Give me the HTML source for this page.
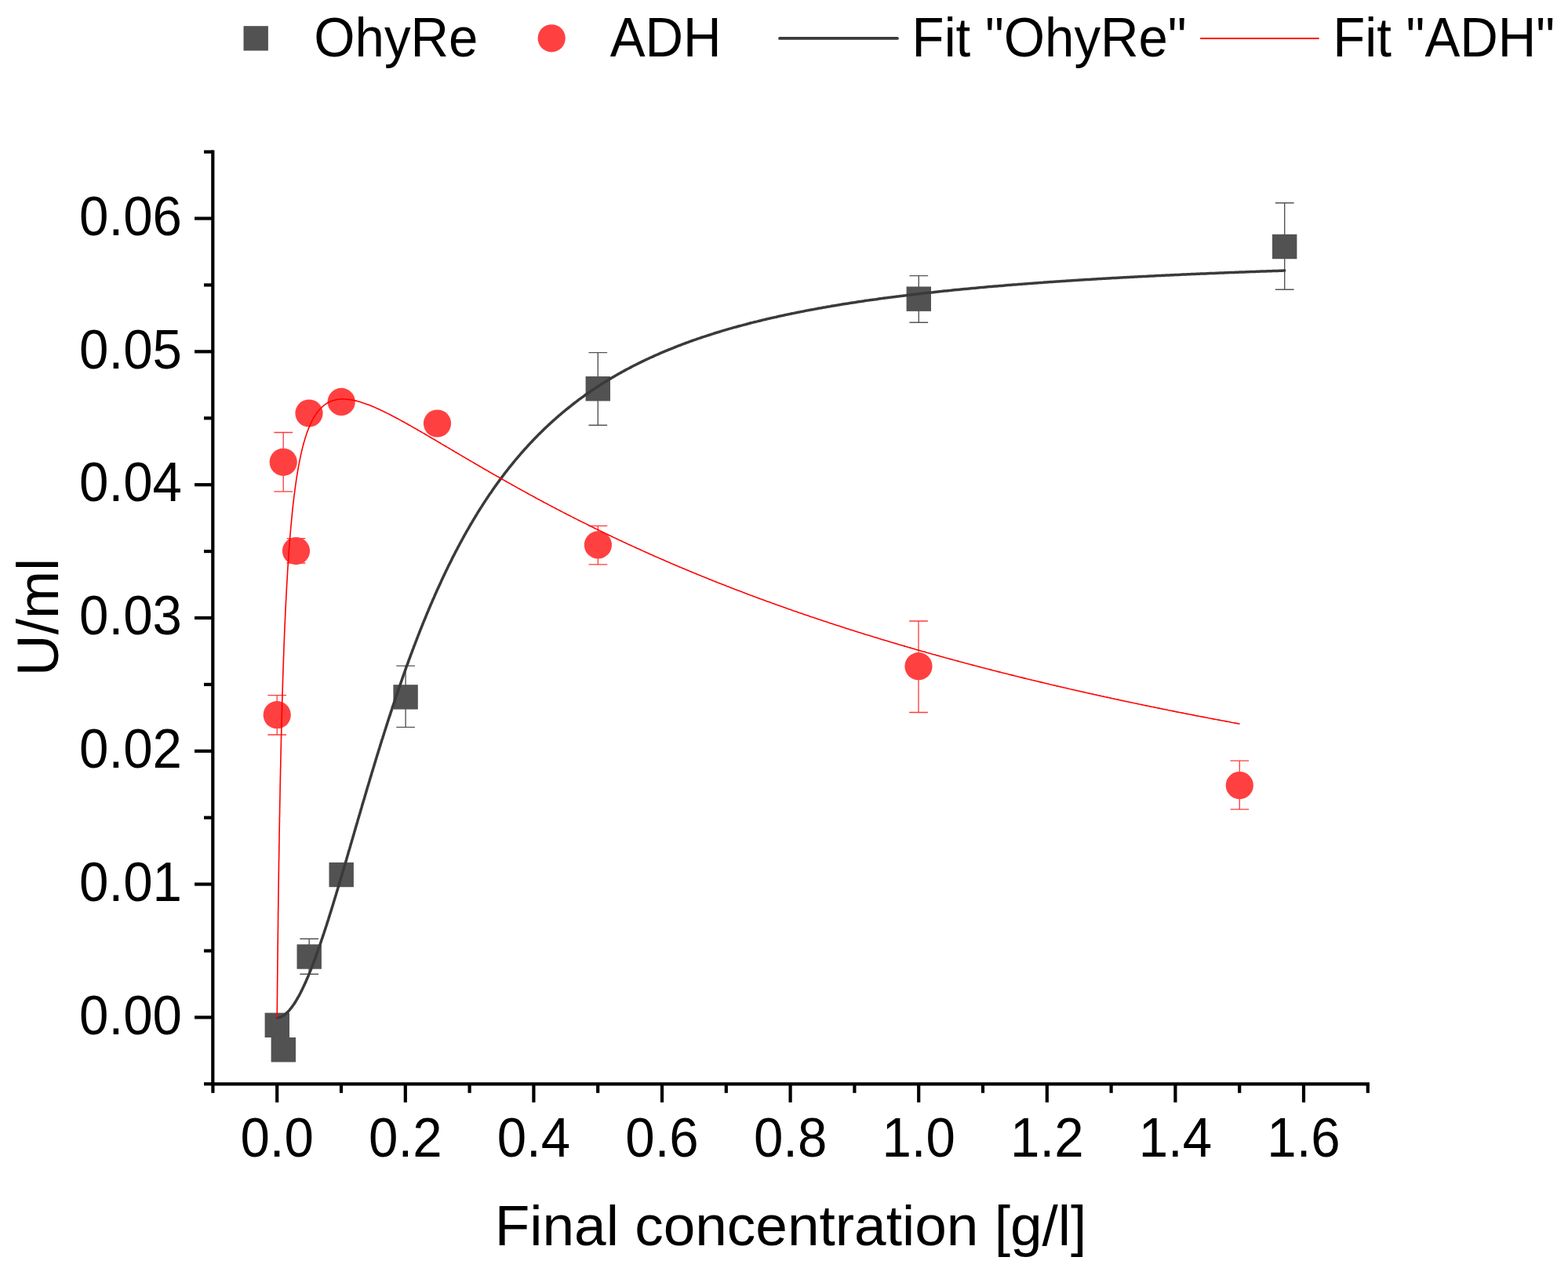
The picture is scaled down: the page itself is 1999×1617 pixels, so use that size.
<!DOCTYPE html>
<html><head><meta charset="utf-8"><title>Enzyme activity vs final concentration</title>
<style>html,body{margin:0;padding:0;background:#fff;overflow:hidden;} svg{display:block;}</style>
</head><body>
<svg width="1999" height="1617" viewBox="0 0 1999 1617">
<rect width="1999" height="1617" fill="#fff"/>
<g stroke="#000" stroke-width="4.2" fill="none" stroke-linecap="butt">
<path d="M271.3,191.5 V1384.3999999999999"/>
<path d="M269.2,1382.3 H1745.9"/>
<path d="M260.0,1382.30 H271.3"/>
<path d="M248.0,1297.40 H271.3"/>
<path d="M260.0,1212.50 H271.3"/>
<path d="M248.0,1127.59 H271.3"/>
<path d="M260.0,1042.69 H271.3"/>
<path d="M248.0,957.79 H271.3"/>
<path d="M260.0,872.88 H271.3"/>
<path d="M248.0,787.98 H271.3"/>
<path d="M260.0,703.08 H271.3"/>
<path d="M248.0,618.17 H271.3"/>
<path d="M260.0,533.27 H271.3"/>
<path d="M248.0,448.37 H271.3"/>
<path d="M260.0,363.46 H271.3"/>
<path d="M248.0,278.56 H271.3"/>
<path d="M260.0,193.65 H271.3"/>
<path d="M271.40,1382.3 V1393.8"/>
<path d="M353.20,1382.3 V1405.8"/>
<path d="M435.00,1382.3 V1393.8"/>
<path d="M516.80,1382.3 V1405.8"/>
<path d="M598.60,1382.3 V1393.8"/>
<path d="M680.40,1382.3 V1405.8"/>
<path d="M762.20,1382.3 V1393.8"/>
<path d="M844.00,1382.3 V1405.8"/>
<path d="M925.80,1382.3 V1393.8"/>
<path d="M1007.60,1382.3 V1405.8"/>
<path d="M1089.40,1382.3 V1393.8"/>
<path d="M1171.20,1382.3 V1405.8"/>
<path d="M1253.00,1382.3 V1393.8"/>
<path d="M1334.80,1382.3 V1405.8"/>
<path d="M1416.60,1382.3 V1393.8"/>
<path d="M1498.40,1382.3 V1405.8"/>
<path d="M1580.20,1382.3 V1393.8"/>
<path d="M1662.00,1382.3 V1405.8"/>
<path d="M1743.80,1382.3 V1393.8"/>
</g>
<g font-family="Liberation Sans, Arial, sans-serif" font-size="67.2" fill="#000">
<text text-anchor="end" transform="translate(231.9,1318.70) scale(1,1.05)">0.00</text>
<text text-anchor="end" transform="translate(231.9,1148.89) scale(1,1.05)">0.01</text>
<text text-anchor="end" transform="translate(231.9,979.09) scale(1,1.05)">0.02</text>
<text text-anchor="end" transform="translate(231.9,809.28) scale(1,1.05)">0.03</text>
<text text-anchor="end" transform="translate(231.9,639.47) scale(1,1.05)">0.04</text>
<text text-anchor="end" transform="translate(231.9,469.67) scale(1,1.05)">0.05</text>
<text text-anchor="end" transform="translate(231.9,299.86) scale(1,1.05)">0.06</text>
<text text-anchor="middle" transform="translate(353.20,1475.2) scale(1,1.05)">0.0</text>
<text text-anchor="middle" transform="translate(516.80,1475.2) scale(1,1.05)">0.2</text>
<text text-anchor="middle" transform="translate(680.40,1475.2) scale(1,1.05)">0.4</text>
<text text-anchor="middle" transform="translate(844.00,1475.2) scale(1,1.05)">0.6</text>
<text text-anchor="middle" transform="translate(1007.60,1475.2) scale(1,1.05)">0.8</text>
<text text-anchor="middle" transform="translate(1171.20,1475.2) scale(1,1.05)">1.0</text>
<text text-anchor="middle" transform="translate(1334.80,1475.2) scale(1,1.05)">1.2</text>
<text text-anchor="middle" transform="translate(1498.40,1475.2) scale(1,1.05)">1.4</text>
<text text-anchor="middle" transform="translate(1662.00,1475.2) scale(1,1.05)">1.6</text>
</g>
<text font-family="Liberation Sans, Arial, sans-serif" font-size="73.2" text-anchor="middle" transform="translate(74.0,787.0) rotate(-90) scale(1,1.02)">U/ml</text>
<text font-family="Liberation Sans, Arial, sans-serif" font-size="73" text-anchor="middle" transform="translate(1008.0,1588.3) scale(1,1.0)">Final concentration [g/l]</text>
<g stroke="#555" stroke-width="1.4" fill="none">
<path d="M394.20,1197.30 V1242.30 M382.35,1197.30 h23.7 M382.35,1242.30 h23.7"/>
<path d="M517.10,849.10 V927.40 M505.25,849.10 h23.7 M505.25,927.40 h23.7"/>
<path d="M762.30,449.60 V542.30 M750.45,449.60 h23.7 M750.45,542.30 h23.7"/>
<path d="M1171.30,351.60 V411.20 M1159.45,351.60 h23.7 M1159.45,411.20 h23.7"/>
<path d="M1637.70,258.80 V369.30 M1625.85,258.80 h23.7 M1625.85,369.30 h23.7"/>
</g>
<g stroke="#ff3a3a" stroke-width="1.3" fill="none">
<path d="M353.20,886.60 V937.00 M341.35,886.60 h23.7 M341.35,937.00 h23.7"/>
<path d="M361.20,551.50 V626.80 M349.35,551.50 h23.7 M349.35,626.80 h23.7"/>
<path d="M377.50,686.60 V718.00 M365.65,686.60 h23.7 M365.65,718.00 h23.7"/>
<path d="M762.40,670.70 V719.80 M750.55,670.70 h23.7 M750.55,719.80 h23.7"/>
<path d="M1171.00,792.00 V908.50 M1159.15,792.00 h23.7 M1159.15,908.50 h23.7"/>
<path d="M1580.30,970.10 V1032.20 M1568.45,970.10 h23.7 M1568.45,1032.20 h23.7"/>
</g>
<g fill="#525252">
<rect x="337.60" y="1291.60" width="31.4" height="31.4"/>
<rect x="345.60" y="1323.00" width="31.4" height="31.4"/>
<rect x="378.50" y="1204.30" width="31.4" height="31.4"/>
<rect x="419.50" y="1099.80" width="31.4" height="31.4"/>
<rect x="501.40" y="873.20" width="31.4" height="31.4"/>
<rect x="746.60" y="480.00" width="31.4" height="31.4"/>
<rect x="1155.60" y="365.50" width="31.4" height="31.4"/>
<rect x="1622.00" y="298.80" width="31.4" height="31.4"/>
</g>
<g fill="#ff4040">
<circle cx="353.20" cy="911.70" r="17.6"/>
<circle cx="361.20" cy="589.30" r="17.6"/>
<circle cx="377.50" cy="702.60" r="17.6"/>
<circle cx="394.00" cy="527.00" r="17.6"/>
<circle cx="435.20" cy="512.40" r="17.6"/>
<circle cx="557.50" cy="540.00" r="17.6"/>
<circle cx="762.40" cy="694.90" r="17.6"/>
<circle cx="1171.00" cy="849.70" r="17.6"/>
<circle cx="1580.30" cy="1001.60" r="17.6"/>
</g>
<path d="M353.2,1297.8 354.7,1297.7 356.2,1297.4 357.7,1296.9 359.1,1296.3 360.4,1295.6 361.7,1294.8 362.9,1293.9 364.2,1292.9 365.3,1291.9 366.4,1290.9 367.5,1289.8 368.6,1288.6 369.6,1287.4 370.6,1286.2 371.6,1284.9 372.5,1283.6 373.5,1282.3 374.4,1281.0 375.3,1279.7 376.2,1278.3 377.0,1277.0 377.8,1275.6 378.6,1274.2 379.5,1272.8 380.2,1271.4 381.0,1270.1 381.7,1268.7 382.5,1267.2 383.3,1265.7 384.1,1264.1 384.9,1262.5 385.6,1261.2 386.2,1259.7 386.9,1258.3 387.6,1256.8 388.3,1255.3 389.0,1253.7 389.8,1252.1 390.5,1250.4 391.2,1248.8 392.0,1247.0 392.6,1245.6 393.2,1244.2 393.8,1242.7 394.4,1241.2 395.0,1239.7 395.6,1238.2 396.2,1236.6 396.9,1235.0 397.5,1233.4 398.1,1231.8 398.8,1230.1 399.4,1228.4 400.1,1226.7 400.7,1224.9 401.4,1223.1 402.1,1221.3 402.7,1219.5 403.4,1217.6 403.9,1216.2 404.4,1214.8 405.0,1213.3 405.5,1211.9 406.0,1210.4 406.5,1208.9 407.0,1207.4 407.6,1205.9 408.1,1204.3 408.6,1202.8 409.2,1201.2 409.7,1199.6 410.2,1198.0 410.8,1196.4 411.3,1194.8 411.9,1193.2 412.4,1191.5 413.0,1189.8 413.5,1188.1 414.1,1186.4 414.7,1184.7 415.2,1183.0 415.8,1181.2 416.4,1179.5 416.9,1177.7 417.5,1175.9 418.1,1174.1 418.7,1172.2 419.2,1170.4 419.8,1168.6 420.4,1166.7 421.0,1164.8 421.6,1162.9 422.2,1161.0 422.8,1159.1 423.4,1157.1 424.0,1155.2 424.6,1153.2 425.2,1151.2 425.8,1149.2 426.4,1147.2 427.0,1145.2 427.6,1143.2 428.3,1141.1 428.9,1139.0 429.5,1137.0 430.1,1134.9 430.8,1132.8 431.4,1130.7 432.0,1128.5 432.7,1126.4 433.3,1124.2 433.8,1122.8 434.2,1121.4 434.6,1119.9 435.0,1118.4 435.5,1117.0 435.9,1115.5 436.3,1114.0 436.8,1112.5 437.2,1111.1 437.7,1109.6 438.1,1108.1 438.5,1106.6 439.0,1105.1 439.4,1103.6 439.9,1102.0 440.3,1100.5 440.8,1099.0 441.2,1097.5 441.7,1095.9 442.1,1094.4 442.6,1092.9 443.0,1091.3 443.5,1089.7 443.9,1088.2 444.4,1086.6 444.8,1085.1 445.3,1083.5 445.8,1081.9 446.2,1080.3 446.7,1078.7 447.1,1077.2 447.6,1075.6 448.1,1074.0 448.5,1072.4 449.0,1070.8 449.5,1069.2 449.9,1067.5 450.4,1065.9 450.9,1064.3 451.4,1062.7 451.8,1061.0 452.3,1059.4 452.8,1057.8 453.3,1056.1 453.7,1054.5 454.2,1052.8 454.7,1051.2 455.2,1049.5 455.7,1047.9 456.1,1046.2 456.6,1044.6 457.1,1042.9 457.6,1041.2 458.1,1039.5 458.6,1037.9 459.1,1036.2 459.6,1034.5 460.1,1032.8 460.6,1031.1 461.1,1029.4 461.5,1027.8 462.0,1026.1 462.5,1024.4 463.0,1022.7 463.5,1021.0 464.1,1019.2 464.6,1017.5 465.1,1015.8 465.6,1014.1 466.1,1012.4 466.6,1010.7 467.1,1009.0 467.6,1007.2 468.1,1005.5 468.6,1003.8 469.1,1002.1 469.7,1000.3 470.2,998.6 470.7,996.9 471.2,995.1 471.7,993.4 472.2,991.7 472.8,989.9 473.3,988.2 473.8,986.4 474.3,984.7 474.9,982.9 475.4,981.2 475.9,979.5 476.5,977.7 477.0,976.0 477.5,974.2 478.1,972.4 478.6,970.7 479.1,968.9 479.7,967.2 480.2,965.4 480.7,963.7 481.3,961.9 481.8,960.2 482.4,958.4 482.9,956.6 483.5,954.9 484.0,953.1 484.5,951.4 485.1,949.6 485.6,947.8 486.2,946.1 486.7,944.3 487.3,942.5 487.9,940.8 488.4,939.0 489.0,937.3 489.5,935.5 490.1,933.7 490.6,932.0 491.2,930.2 491.8,928.5 492.3,926.7 492.9,924.9 493.5,923.2 494.0,921.4 494.6,919.7 495.2,917.9 495.7,916.1 496.3,914.4 496.9,912.6 497.5,910.9 498.0,909.1 498.6,907.4 499.2,905.6 499.8,903.8 500.3,902.1 500.9,900.3 501.5,898.6 502.1,896.8 502.7,895.1 503.2,893.3 503.8,891.6 504.4,889.9 505.0,888.1 505.6,886.4 506.2,884.6 506.8,882.9 507.4,881.2 508.0,879.4 508.6,877.7 509.2,876.0 509.8,874.2 510.4,872.5 511.0,870.8 511.6,869.0 512.2,867.3 512.8,865.6 513.4,863.9 514.0,862.2 514.6,860.4 515.2,858.7 515.8,857.0 516.4,855.3 517.0,853.6 517.6,851.9 518.2,850.2 518.9,848.5 519.5,846.8 520.1,845.1 520.7,843.4 521.3,841.7 522.0,840.0 522.6,838.3 523.2,836.6 523.8,834.9 524.4,833.3 525.1,831.6 525.7,829.9 526.3,828.2 527.0,826.6 527.6,824.9 528.2,823.2 528.9,821.6 529.5,819.9 530.1,818.2 530.8,816.6 531.4,814.9 532.0,813.3 532.7,811.6 533.3,810.0 534.0,808.4 534.6,806.7 535.2,805.1 535.9,803.5 536.5,801.8 537.2,800.2 537.8,798.6 538.5,797.0 539.1,795.3 539.8,793.7 540.4,792.1 541.1,790.5 541.8,788.9 542.4,787.3 543.1,785.7 543.7,784.1 544.4,782.5 545.0,780.9 545.7,779.4 546.4,777.8 547.0,776.2 547.7,774.6 548.4,773.1 549.0,771.5 549.7,769.9 550.4,768.4 551.1,766.8 551.7,765.3 552.4,763.7 553.1,762.2 553.8,760.6 554.4,759.1 555.1,757.5 555.8,756.0 556.5,754.5 557.1,753.0 557.8,751.4 558.5,749.9 559.2,748.4 559.9,746.9 560.6,745.4 561.3,743.9 562.0,742.4 562.6,740.9 563.3,739.4 564.0,737.9 564.7,736.4 565.4,735.0 566.1,733.5 566.8,732.0 567.5,730.5 568.2,729.1 568.9,727.6 569.6,726.2 570.3,724.7 571.0,723.3 571.7,721.8 572.4,720.4 573.2,718.9 573.9,717.5 574.6,716.1 575.3,714.7 576.0,713.2 576.7,711.8 577.4,710.4 578.1,709.0 578.9,707.6 579.6,706.2 580.3,704.8 581.0,703.4 581.7,702.0 582.5,700.6 583.2,699.3 583.9,697.9 584.6,696.5 585.4,695.1 586.1,693.8 586.8,692.4 587.6,691.1 588.3,689.7 589.0,688.4 589.8,687.0 590.5,685.7 591.2,684.3 592.0,683.0 592.7,681.7 593.5,680.4 594.2,679.0 594.9,677.7 595.7,676.4 596.4,675.1 597.2,673.8 598.3,671.9 599.4,669.9 600.5,668.0 601.7,666.1 602.8,664.2 603.9,662.3 605.1,660.4 606.2,658.5 607.4,656.6 608.5,654.7 609.6,652.9 610.8,651.0 611.9,649.2 613.1,647.4 614.3,645.6 615.4,643.7 616.6,641.9 617.7,640.2 618.9,638.4 620.1,636.6 621.3,634.8 622.4,633.1 623.6,631.3 624.8,629.6 626.0,627.9 627.2,626.2 628.3,624.4 629.5,622.7 630.7,621.0 631.9,619.4 633.1,617.7 634.3,616.0 635.5,614.4 636.7,612.7 637.9,611.1 639.2,609.5 640.4,607.8 641.6,606.2 642.8,604.6 644.0,603.0 645.3,601.4 646.5,599.9 647.7,598.3 648.9,596.7 650.2,595.2 651.4,593.6 652.7,592.1 653.9,590.6 655.1,589.1 656.4,587.5 657.6,586.0 658.9,584.6 660.1,583.1 661.4,581.6 662.7,580.1 663.9,578.7 665.2,577.2 666.5,575.8 667.7,574.3 669.0,572.9 670.3,571.5 671.6,570.1 672.8,568.7 674.1,567.3 675.4,565.9 676.7,564.5 678.0,563.2 679.3,561.8 680.6,560.4 681.9,559.1 683.2,557.8 684.5,556.4 685.8,555.1 687.1,553.8 688.4,552.5 689.7,551.2 691.0,549.9 692.4,548.6 693.7,547.3 695.0,546.1 696.3,544.8 697.7,543.5 699.0,542.3 700.3,541.1 701.7,539.8 703.0,538.6 704.3,537.4 705.7,536.2 707.0,535.0 708.4,533.8 709.7,532.6 711.1,531.4 712.4,530.2 713.8,529.1 715.2,527.9 716.5,526.7 717.9,525.6 719.3,524.5 720.6,523.3 722.0,522.2 723.4,521.1 724.8,520.0 726.2,518.9 727.6,517.8 728.9,516.7 730.3,515.6 731.7,514.5 733.1,513.4 734.5,512.4 735.9,511.3 737.3,510.2 738.7,509.2 740.1,508.2 741.6,507.1 743.0,506.1 744.4,505.1 745.8,504.0 747.2,503.0 748.7,502.0 750.1,501.0 751.5,500.0 752.9,499.1 754.4,498.1 755.8,497.1 757.3,496.1 758.7,495.2 760.1,494.2 761.6,493.3 763.0,492.3 764.5,491.4 765.9,490.4 767.4,489.5 768.9,488.6 770.3,487.7 771.8,486.8 773.3,485.9 774.7,485.0 776.2,484.1 777.7,483.2 779.2,482.3 780.6,481.4 782.1,480.6 783.6,479.7 785.1,478.8 786.6,478.0 788.1,477.1 789.6,476.3 791.1,475.4 792.6,474.6 794.1,473.8 795.6,472.9 797.1,472.1 798.6,471.3 800.1,470.5 801.7,469.7 803.2,468.9 804.7,468.1 806.2,467.3 807.7,466.5 809.3,465.7 810.8,465.0 812.3,464.2 813.9,463.4 815.4,462.7 817.0,461.9 818.5,461.1 820.1,460.4 821.6,459.7 823.2,458.9 824.7,458.2 826.3,457.5 827.8,456.7 829.4,456.0 831.0,455.3 832.5,454.6 834.1,453.9 835.7,453.2 837.3,452.5 838.8,451.8 840.4,451.1 842.0,450.4 843.6,449.7 845.2,449.0 846.8,448.4 848.4,447.7 850.0,447.0 851.6,446.4 853.2,445.7 854.8,445.1 856.4,444.4 858.0,443.8 859.6,443.1 861.2,442.5 862.8,441.8 864.4,441.2 866.1,440.6 867.7,440.0 869.3,439.3 871.0,438.7 872.6,438.1 874.2,437.5 875.9,436.9 877.5,436.3 879.1,435.7 880.8,435.1 882.4,434.5 884.1,433.9 885.7,433.4 887.4,432.8 889.1,432.2 890.7,431.6 892.4,431.1 894.0,430.5 895.7,429.9 897.4,429.4 899.1,428.8 900.7,428.3 902.4,427.7 904.1,427.2 905.8,426.7 907.5,426.1 909.2,425.6 910.8,425.0 912.5,424.5 914.2,424.0 915.9,423.5 917.6,423.0 919.3,422.4 921.1,421.9 922.8,421.4 924.5,420.9 926.2,420.4 927.9,419.9 929.6,419.4 931.4,418.9 933.1,418.4 934.8,417.9 936.5,417.4 938.3,417.0 940.0,416.5 941.7,416.0 943.5,415.5 945.2,415.1 947.0,414.6 948.7,414.1 950.5,413.7 952.2,413.2 954.0,412.8 955.7,412.3 957.5,411.8 959.3,411.4 961.0,410.9 962.8,410.5 964.6,410.1 966.4,409.6 968.1,409.2 969.9,408.8 971.7,408.3 973.5,407.9 975.3,407.5 977.1,407.0 978.8,406.6 980.6,406.2 982.4,405.8 984.2,405.4 986.0,405.0 987.8,404.6 989.6,404.2 991.5,403.7 993.3,403.3 995.1,402.9 996.9,402.6 998.7,402.2 1000.5,401.8 1002.4,401.4 1004.2,401.0 1006.0,400.6 1007.9,400.2 1009.7,399.8 1011.5,399.5 1013.4,399.1 1015.2,398.7 1017.1,398.3 1018.9,398.0 1020.8,397.6 1022.6,397.2 1024.5,396.9 1026.3,396.5 1028.2,396.1 1030.1,395.8 1031.9,395.4 1033.8,395.1 1035.7,394.7 1037.6,394.4 1039.4,394.0 1041.3,393.7 1043.2,393.3 1045.1,393.0 1047.0,392.7 1048.9,392.3 1050.7,392.0 1052.6,391.7 1054.5,391.3 1056.4,391.0 1058.3,390.7 1060.2,390.3 1062.2,390.0 1064.1,389.7 1066.0,389.4 1067.9,389.1 1069.8,388.7 1071.7,388.4 1073.7,388.1 1075.6,387.8 1077.5,387.5 1079.4,387.2 1081.4,386.9 1083.3,386.6 1085.2,386.3 1087.2,386.0 1089.1,385.7 1091.1,385.4 1093.0,385.1 1095.0,384.8 1096.9,384.5 1098.9,384.2 1100.9,383.9 1102.8,383.6 1104.8,383.3 1106.7,383.1 1108.7,382.8 1110.7,382.5 1112.7,382.2 1114.6,381.9 1116.6,381.7 1118.6,381.4 1120.6,381.1 1122.6,380.8 1124.6,380.6 1126.6,380.3 1128.6,380.0 1130.6,379.8 1132.6,379.5 1134.6,379.2 1136.6,379.0 1138.6,378.7 1140.6,378.5 1142.6,378.2 1144.6,377.9 1146.6,377.7 1148.6,377.4 1150.7,377.2 1152.7,376.9 1154.7,376.7 1156.8,376.4 1158.8,376.2 1160.8,376.0 1162.9,375.7 1164.9,375.5 1167.0,375.2 1169.0,375.0 1171.0,374.8 1173.1,374.5 1175.2,374.3 1177.2,374.0 1179.3,373.8 1181.3,373.6 1183.4,373.3 1185.5,373.1 1187.5,372.9 1189.6,372.7 1191.7,372.4 1193.8,372.2 1195.8,372.0 1197.9,371.8 1200.0,371.6 1202.1,371.3 1204.2,371.1 1206.3,370.9 1208.4,370.7 1210.5,370.5 1212.6,370.3 1214.7,370.0 1216.8,369.8 1218.9,369.6 1221.0,369.4 1223.1,369.2 1225.2,369.0 1227.4,368.8 1229.5,368.6 1231.6,368.4 1233.7,368.2 1235.9,368.0 1238.0,367.8 1240.1,367.6 1242.3,367.4 1244.4,367.2 1246.5,367.0 1248.7,366.8 1250.8,366.6 1253.0,366.4 1255.1,366.2 1257.3,366.0 1259.4,365.8 1261.6,365.6 1263.8,365.5 1265.9,365.3 1268.1,365.1 1270.3,364.9 1272.4,364.7 1274.6,364.5 1276.8,364.4 1279.0,364.2 1281.2,364.0 1283.3,363.8 1285.5,363.6 1287.7,363.5 1289.9,363.3 1292.1,363.1 1294.3,362.9 1296.5,362.8 1298.7,362.6 1300.9,362.4 1303.1,362.2 1305.3,362.1 1307.6,361.9 1309.8,361.7 1312.0,361.6 1314.2,361.4 1316.4,361.2 1318.7,361.1 1320.9,360.9 1323.1,360.7 1325.4,360.6 1327.6,360.4 1329.8,360.3 1332.1,360.1 1334.3,359.9 1335.8,359.8 1337.3,359.7 1338.8,359.6 1340.3,359.5 1341.8,359.4 1343.3,359.3 1344.8,359.2 1346.3,359.1 1347.8,359.0 1349.3,358.9 1350.9,358.8 1352.4,358.7 1353.9,358.6 1355.4,358.5 1356.9,358.4 1358.4,358.3 1359.9,358.2 1361.5,358.1 1363.0,358.0 1364.5,357.9 1366.0,357.8 1367.5,357.7 1369.1,357.6 1370.6,357.5 1372.1,357.4 1373.6,357.3 1375.2,357.2 1376.7,357.1 1378.2,357.0 1379.8,356.9 1381.3,356.8 1382.8,356.7 1384.4,356.6 1385.9,356.5 1387.4,356.4 1389.0,356.4 1390.5,356.3 1392.0,356.2 1393.6,356.1 1395.1,356.0 1396.7,355.9 1398.2,355.8 1399.8,355.7 1401.3,355.6 1402.9,355.5 1404.4,355.4 1406.0,355.3 1407.5,355.3 1409.1,355.2 1410.6,355.1 1412.2,355.0 1413.7,354.9 1415.3,354.8 1416.8,354.7 1418.4,354.6 1420.0,354.5 1421.5,354.5 1423.1,354.4 1424.6,354.3 1426.2,354.2 1427.8,354.1 1429.3,354.0 1430.9,353.9 1432.5,353.8 1434.1,353.8 1435.6,353.7 1437.2,353.6 1438.8,353.5 1440.4,353.4 1441.9,353.3 1443.5,353.3 1445.1,353.2 1446.7,353.1 1448.2,353.0 1449.8,352.9 1451.4,352.8 1453.0,352.8 1454.6,352.7 1456.2,352.6 1457.8,352.5 1459.4,352.4 1460.9,352.4 1462.5,352.3 1464.1,352.2 1465.7,352.1 1467.3,352.0 1468.9,352.0 1470.5,351.9 1472.1,351.8 1473.7,351.7 1475.3,351.6 1476.9,351.6 1478.5,351.5 1480.1,351.4 1481.7,351.3 1483.3,351.3 1484.9,351.2 1486.5,351.1 1488.2,351.0 1489.8,351.0 1491.4,350.9 1493.0,350.8 1494.6,350.7 1496.2,350.7 1497.8,350.6 1499.5,350.5 1501.1,350.4 1502.7,350.4 1504.3,350.3 1505.9,350.2 1507.6,350.1 1509.2,350.1 1510.8,350.0 1512.4,349.9 1514.1,349.8 1515.7,349.8 1517.3,349.7 1519.0,349.6 1520.6,349.6 1522.2,349.5 1523.9,349.4 1525.5,349.3 1527.1,349.3 1528.8,349.2 1530.4,349.1 1532.1,349.1 1533.7,349.0 1535.3,348.9 1537.0,348.9 1538.6,348.8 1540.3,348.7 1541.9,348.6 1543.6,348.6 1545.2,348.5 1546.9,348.4 1548.5,348.4 1550.2,348.3 1551.8,348.2 1553.5,348.2 1555.1,348.1 1556.8,348.0 1558.5,348.0 1560.1,347.9 1561.8,347.8 1563.4,347.8 1565.1,347.7 1566.8,347.6 1568.4,347.6 1570.1,347.5 1571.8,347.4 1573.4,347.4 1575.1,347.3 1576.8,347.3 1578.5,347.2 1580.1,347.1 1581.8,347.1 1583.5,347.0 1585.2,346.9 1586.8,346.9 1588.5,346.8 1590.2,346.7 1591.9,346.7 1593.6,346.6 1595.2,346.6 1596.9,346.5 1598.6,346.4 1600.3,346.4 1602.0,346.3 1603.7,346.3 1605.4,346.2 1607.1,346.1 1608.8,346.1 1610.5,346.0 1612.1,346.0 1613.8,345.9 1615.5,345.8 1617.2,345.8 1618.9,345.7 1620.6,345.7 1622.3,345.6 1624.1,345.5 1625.8,345.5 1627.5,345.4 1629.2,345.4 1630.9,345.3 1632.6,345.2 1634.3,345.2 1636.0,345.1 1637.7,345.1" fill="none" stroke="#3a3a3a" stroke-width="3.5" stroke-linecap="round" stroke-linejoin="round"/>
<path d="M353.2,1297.8 353.2,1296.0 353.2,1294.5 353.2,1292.5 353.3,1290.8 353.3,1288.7 353.3,1286.5 353.3,1284.8 353.3,1283.0 353.4,1281.2 353.4,1279.2 353.4,1277.1 353.4,1274.9 353.4,1272.7 353.5,1270.3 353.5,1267.8 353.5,1265.2 353.5,1262.6 353.6,1259.8 353.6,1257.0 353.6,1254.0 353.6,1252.5 353.7,1251.0 353.7,1249.4 353.7,1247.9 353.7,1246.3 353.7,1244.7 353.7,1243.0 353.8,1241.4 353.8,1239.7 353.8,1238.0 353.8,1236.3 353.8,1234.6 353.8,1232.9 353.9,1231.1 353.9,1229.3 353.9,1227.5 353.9,1225.7 353.9,1223.9 354.0,1222.0 354.0,1220.2 354.0,1218.3 354.0,1216.4 354.1,1214.4 354.1,1212.5 354.1,1210.6 354.1,1208.6 354.1,1206.6 354.2,1204.6 354.2,1202.6 354.2,1200.6 354.2,1198.6 354.3,1196.5 354.3,1194.4 354.3,1192.4 354.3,1190.3 354.4,1188.2 354.4,1186.1 354.4,1183.9 354.4,1181.8 354.5,1179.6 354.5,1177.5 354.5,1175.3 354.5,1173.1 354.6,1170.9 354.6,1168.7 354.6,1166.5 354.6,1164.3 354.7,1162.0 354.7,1159.8 354.7,1157.5 354.8,1155.3 354.8,1153.0 354.8,1150.7 354.9,1148.5 354.9,1146.2 354.9,1143.9 354.9,1141.6 355.0,1139.2 355.0,1136.9 355.0,1134.6 355.1,1132.3 355.1,1129.9 355.1,1127.6 355.2,1125.2 355.2,1122.9 355.2,1120.5 355.3,1118.1 355.3,1115.8 355.3,1113.4 355.4,1111.0 355.4,1108.6 355.4,1106.2 355.5,1103.8 355.5,1101.4 355.5,1099.0 355.6,1096.6 355.6,1094.2 355.7,1091.8 355.7,1089.4 355.7,1087.0 355.8,1084.6 355.8,1082.2 355.8,1079.8 355.9,1077.3 355.9,1074.9 356.0,1072.5 356.0,1070.1 356.0,1067.7 356.1,1065.2 356.1,1062.8 356.1,1060.4 356.2,1058.0 356.2,1055.6 356.3,1053.1 356.3,1050.7 356.4,1048.3 356.4,1045.9 356.4,1043.5 356.5,1041.0 356.5,1038.6 356.6,1036.2 356.6,1033.8 356.6,1031.4 356.7,1029.0 356.7,1026.6 356.8,1024.2 356.8,1021.8 356.9,1019.4 356.9,1017.0 357.0,1014.6 357.0,1012.2 357.1,1009.8 357.1,1007.4 357.1,1005.0 357.2,1002.7 357.2,1000.3 357.3,997.9 357.3,995.6 357.4,993.2 357.4,990.8 357.5,988.5 357.5,986.1 357.6,983.8 357.6,981.4 357.7,979.1 357.7,976.8 357.8,974.5 357.8,972.1 357.9,969.8 357.9,967.5 358.0,965.2 358.0,962.9 358.1,960.6 358.1,958.3 358.2,956.0 358.2,953.7 358.3,951.5 358.3,949.2 358.4,946.9 358.4,944.7 358.5,942.4 358.5,940.2 358.6,937.9 358.7,935.7 358.7,933.5 358.8,931.3 358.8,929.0 358.9,926.8 358.9,924.6 359.0,922.4 359.0,920.2 359.1,918.1 359.2,915.9 359.2,913.7 359.3,911.5 359.3,909.4 359.4,907.2 359.4,905.1 359.5,903.0 359.6,900.8 359.6,898.7 359.7,896.6 359.7,894.5 359.8,892.4 359.9,890.3 359.9,888.2 360.0,886.1 360.0,884.1 360.1,882.0 360.2,879.9 360.2,877.9 360.3,875.9 360.4,873.8 360.4,871.8 360.5,869.8 360.5,867.8 360.6,865.8 360.7,863.8 360.7,861.8 360.8,859.8 360.9,857.8 360.9,855.8 361.0,853.9 361.1,851.9 361.1,850.0 361.2,848.0 361.3,846.1 361.3,844.2 361.4,842.3 361.5,840.4 361.5,838.5 361.6,836.6 361.7,834.7 361.7,832.8 361.8,831.0 361.9,829.1 361.9,827.2 362.0,825.4 362.1,823.6 362.1,821.7 362.2,819.9 362.3,818.1 362.4,816.3 362.4,814.5 362.5,812.7 362.6,810.9 362.6,809.1 362.7,807.4 362.8,805.6 362.9,803.9 362.9,802.1 363.0,800.4 363.1,798.7 363.1,796.9 363.2,795.2 363.3,793.5 363.4,791.8 363.4,790.1 363.5,788.4 363.6,786.8 363.7,785.1 363.7,783.4 363.8,781.8 363.9,780.1 364.0,778.5 364.1,776.9 364.1,775.3 364.2,773.6 364.3,772.0 364.4,770.4 364.4,768.8 364.5,767.3 364.6,765.7 364.7,764.1 364.8,762.5 364.8,761.0 364.9,759.4 365.0,757.9 365.1,756.4 365.2,754.8 365.2,753.3 365.3,751.8 365.4,750.3 365.6,747.3 365.7,744.4 365.9,741.4 366.1,738.5 366.2,735.7 366.4,732.8 366.6,730.0 366.7,727.2 366.9,724.5 367.1,721.7 367.3,719.0 367.4,716.3 367.6,713.7 367.8,711.1 368.0,708.5 368.2,705.9 368.3,703.4 368.5,700.8 368.7,698.3 368.9,695.9 369.1,693.4 369.3,691.0 369.4,688.6 369.6,686.3 369.8,683.9 370.0,681.6 370.2,679.3 370.4,677.0 370.6,674.8 370.8,672.6 371.0,670.4 371.2,668.2 371.4,666.1 371.6,663.9 371.8,661.8 372.0,659.7 372.2,657.7 372.4,655.6 372.6,653.6 372.8,651.6 373.0,649.7 373.2,647.7 373.4,645.8 373.6,643.9 373.8,642.0 374.1,640.1 374.3,638.3 374.5,636.5 374.7,634.6 374.9,632.9 375.1,631.1 375.4,629.3 375.6,627.6 375.8,625.9 376.0,624.2 376.3,622.6 376.5,620.9 376.7,619.3 376.9,617.7 377.2,616.1 377.4,614.5 377.6,612.9 377.8,611.4 378.1,609.9 378.3,608.3 378.5,606.9 378.9,604.7 379.3,602.5 379.6,600.4 380.0,598.3 380.3,596.2 380.7,594.2 381.1,592.2 381.4,590.3 381.8,588.3 382.2,586.5 382.6,584.6 383.0,582.8 383.3,581.0 383.7,579.2 384.1,577.5 384.5,575.8 384.9,574.2 385.3,572.5 385.7,570.9 386.1,569.4 386.5,567.8 386.9,566.3 387.3,564.8 387.7,563.4 388.3,561.5 388.8,559.6 389.4,557.8 390.0,556.0 390.5,554.3 391.1,552.6 391.7,551.0 392.3,549.4 392.8,547.9 393.4,546.4 394.0,544.9 394.6,543.5 395.2,542.1 396.0,540.4 396.8,538.8 397.5,537.2 398.3,535.7 399.1,534.2 399.9,532.8 400.7,531.5 401.5,530.1 402.5,528.6 403.5,527.2 404.5,525.8 405.5,524.5 406.5,523.3 407.5,522.1 408.6,521.0 409.8,519.8 411.0,518.6 412.3,517.6 413.5,516.6 414.8,515.6 416.1,514.8 417.4,514.0 418.7,513.2 420.3,512.5 421.8,511.8 423.3,511.2 424.9,510.7 426.5,510.2 428.1,509.9 429.8,509.5 431.4,509.3 433.1,509.1 434.7,509.0 436.4,508.9 438.1,508.9 439.7,509.0 441.2,509.1 442.7,509.2 444.3,509.4 445.8,509.6 447.4,509.8 449.0,510.1 450.6,510.4 452.3,510.7 453.9,511.1 455.5,511.6 457.2,512.0 458.9,512.5 460.3,512.9 461.8,513.4 463.2,513.9 464.7,514.4 466.2,514.9 467.7,515.4 469.2,516.0 470.7,516.6 472.2,517.2 473.8,517.8 475.3,518.5 476.9,519.1 478.4,519.8 480.0,520.5 481.6,521.2 483.2,521.9 484.8,522.7 486.4,523.4 488.0,524.2 489.4,524.9 490.7,525.5 492.1,526.2 493.5,526.9 494.9,527.6 496.3,528.3 497.7,529.0 499.1,529.7 500.5,530.5 501.9,531.2 503.4,532.0 504.8,532.7 506.2,533.5 507.7,534.3 509.1,535.1 510.6,535.9 512.1,536.7 513.5,537.5 515.0,538.3 516.5,539.1 518.0,540.0 519.5,540.8 521.0,541.7 522.5,542.5 524.1,543.4 525.6,544.2 527.1,545.1 528.7,546.0 530.2,546.9 531.8,547.8 533.3,548.7 534.9,549.6 536.5,550.5 538.1,551.4 539.7,552.4 541.3,553.3 542.9,554.2 544.5,555.2 545.8,555.9 547.1,556.7 548.4,557.5 549.7,558.2 551.0,559.0 552.3,559.8 553.6,560.5 555.0,561.3 556.3,562.1 557.6,562.9 559.0,563.7 560.3,564.5 561.7,565.3 563.0,566.1 564.4,566.9 565.7,567.7 567.1,568.5 568.5,569.3 569.8,570.1 571.2,570.9 572.6,571.7 574.0,572.6 575.4,573.4 576.8,574.2 578.2,575.0 579.6,575.9 581.0,576.7 582.4,577.5 583.8,578.4 585.2,579.2 586.7,580.1 588.1,580.9 589.5,581.7 591.0,582.6 592.4,583.4 593.8,584.3 595.3,585.1 596.8,586.0 598.2,586.9 599.7,587.7 601.2,588.6 602.6,589.4 604.1,590.3 605.6,591.2 607.1,592.0 608.6,592.9 610.1,593.8 611.6,594.7 613.1,595.5 614.6,596.4 616.1,597.3 617.6,598.2 619.1,599.0 620.7,599.9 622.2,600.8 623.7,601.7 625.3,602.6 626.8,603.5 628.3,604.4 629.9,605.2 631.5,606.1 633.0,607.0 634.6,607.9 636.2,608.8 637.7,609.7 639.3,610.6 640.9,611.5 642.5,612.4 644.1,613.3 645.7,614.2 647.3,615.1 648.9,616.0 650.5,616.9 652.1,617.8 653.7,618.7 655.3,619.6 657.0,620.5 658.6,621.4 660.2,622.4 661.9,623.3 663.5,624.2 665.2,625.1 666.8,626.0 668.5,626.9 670.1,627.8 671.8,628.7 673.5,629.7 675.1,630.6 676.8,631.5 678.5,632.4 680.2,633.3 681.9,634.2 683.6,635.2 685.3,636.1 687.0,637.0 688.7,637.9 690.4,638.8 692.1,639.7 693.8,640.7 695.6,641.6 697.3,642.5 699.0,643.4 700.8,644.4 702.5,645.3 704.3,646.2 706.0,647.1 707.8,648.0 709.5,649.0 711.3,649.9 713.1,650.8 714.4,651.5 715.7,652.2 717.1,652.9 718.4,653.6 719.8,654.3 721.1,655.0 722.4,655.7 723.8,656.4 725.1,657.0 726.5,657.7 727.9,658.4 729.2,659.1 730.6,659.8 731.9,660.5 733.3,661.2 734.7,661.9 736.0,662.6 737.4,663.3 738.8,664.0 740.2,664.7 741.5,665.4 742.9,666.1 744.3,666.7 745.7,667.4 747.1,668.1 748.5,668.8 749.9,669.5 751.3,670.2 752.7,670.9 754.1,671.6 755.5,672.3 756.9,673.0 758.3,673.7 759.7,674.4 761.1,675.1 762.5,675.7 764.0,676.4 765.4,677.1 766.8,677.8 768.2,678.5 769.7,679.2 771.1,679.9 772.5,680.6 774.0,681.3 775.4,682.0 776.8,682.7 778.3,683.3 779.7,684.0 781.2,684.7 782.6,685.4 784.1,686.1 785.5,686.8 787.0,687.5 788.5,688.2 789.9,688.9 791.4,689.5 792.9,690.2 794.3,690.9 795.8,691.6 797.3,692.3 798.8,693.0 800.2,693.7 801.7,694.4 803.2,695.0 804.7,695.7 806.2,696.4 807.7,697.1 809.2,697.8 810.7,698.5 812.2,699.2 813.7,699.8 815.2,700.5 816.7,701.2 818.2,701.9 819.7,702.6 821.2,703.3 822.7,703.9 824.3,704.6 825.8,705.3 827.3,706.0 828.8,706.7 830.4,707.3 831.9,708.0 833.4,708.7 835.0,709.4 836.5,710.1 838.1,710.7 839.6,711.4 841.1,712.1 842.7,712.8 844.2,713.5 845.8,714.1 847.4,714.8 848.9,715.5 850.5,716.2 852.0,716.8 853.6,717.5 855.2,718.2 856.7,718.9 858.3,719.5 859.9,720.2 861.5,720.9 863.1,721.6 864.6,722.2 866.2,722.9 867.8,723.6 869.4,724.2 871.0,724.9 872.6,725.6 874.2,726.3 875.8,726.9 877.4,727.6 879.0,728.3 880.6,728.9 882.2,729.6 883.8,730.3 885.5,730.9 887.1,731.6 888.7,732.3 890.3,732.9 891.9,733.6 893.6,734.3 895.2,734.9 896.8,735.6 898.5,736.3 900.1,736.9 901.8,737.6 903.4,738.2 905.0,738.9 906.7,739.6 908.3,740.2 910.0,740.9 911.6,741.5 913.3,742.2 915.0,742.9 916.6,743.5 918.3,744.2 920.0,744.8 921.6,745.5 923.3,746.1 925.0,746.8 926.6,747.5 928.3,748.1 930.0,748.8 931.7,749.4 933.4,750.1 935.1,750.7 936.8,751.4 938.5,752.0 940.2,752.7 941.9,753.3 943.6,754.0 945.3,754.6 947.0,755.3 948.7,755.9 950.4,756.6 952.1,757.2 953.8,757.9 955.5,758.5 957.3,759.2 959.0,759.8 960.7,760.4 962.4,761.1 964.2,761.7 965.9,762.4 967.6,763.0 969.4,763.7 971.1,764.3 972.9,764.9 974.6,765.6 976.4,766.2 978.1,766.9 979.9,767.5 981.6,768.1 983.4,768.8 985.1,769.4 986.9,770.0 988.7,770.7 990.4,771.3 992.2,771.9 994.0,772.6 995.8,773.2 997.5,773.8 999.3,774.5 1001.1,775.1 1002.9,775.7 1004.7,776.4 1006.5,777.0 1008.2,777.6 1010.0,778.2 1011.8,778.9 1013.6,779.5 1015.4,780.1 1017.2,780.8 1019.1,781.4 1020.9,782.0 1022.7,782.6 1024.5,783.3 1026.3,783.9 1028.1,784.5 1029.9,785.1 1031.8,785.7 1033.6,786.4 1035.4,787.0 1037.3,787.6 1039.1,788.2 1040.9,788.8 1042.8,789.4 1044.6,790.1 1046.5,790.7 1048.3,791.3 1050.2,791.9 1052.0,792.5 1053.9,793.1 1055.7,793.7 1057.6,794.4 1059.4,795.0 1061.3,795.6 1063.2,796.2 1065.0,796.8 1066.9,797.4 1068.8,798.0 1070.7,798.6 1072.5,799.2 1074.4,799.8 1076.3,800.4 1078.2,801.1 1080.1,801.7 1082.0,802.3 1083.9,802.9 1085.8,803.5 1087.7,804.1 1089.6,804.7 1091.5,805.3 1093.4,805.9 1095.3,806.5 1097.2,807.1 1099.1,807.7 1101.0,808.3 1102.9,808.9 1104.8,809.5 1106.8,810.0 1108.7,810.6 1110.6,811.2 1112.6,811.8 1114.5,812.4 1116.4,813.0 1118.4,813.6 1120.3,814.2 1122.2,814.8 1124.2,815.4 1126.1,816.0 1128.1,816.6 1130.0,817.1 1132.0,817.7 1133.9,818.3 1135.9,818.9 1137.9,819.5 1139.8,820.1 1141.8,820.6 1143.8,821.2 1145.7,821.8 1147.7,822.4 1149.7,823.0 1151.7,823.6 1153.7,824.1 1155.6,824.7 1157.6,825.3 1159.6,825.9 1161.6,826.4 1163.6,827.0 1165.6,827.6 1167.6,828.2 1169.6,828.7 1171.6,829.3 1173.6,829.9 1175.6,830.5 1177.6,831.0 1179.6,831.6 1181.7,832.2 1183.7,832.7 1185.7,833.3 1187.7,833.9 1189.7,834.5 1191.8,835.0 1193.8,835.6 1195.8,836.1 1197.9,836.7 1199.9,837.3 1202.0,837.8 1204.0,838.4 1206.0,839.0 1208.1,839.5 1210.1,840.1 1212.2,840.6 1214.2,841.2 1216.3,841.8 1218.4,842.3 1220.4,842.9 1222.5,843.4 1224.6,844.0 1226.6,844.5 1228.7,845.1 1230.8,845.7 1232.9,846.2 1234.9,846.8 1237.0,847.3 1239.1,847.9 1241.2,848.4 1243.3,849.0 1245.4,849.5 1247.5,850.1 1249.6,850.6 1251.7,851.2 1253.8,851.7 1255.9,852.2 1258.0,852.8 1260.1,853.3 1262.2,853.9 1264.3,854.4 1266.4,855.0 1268.6,855.5 1270.7,856.1 1272.8,856.6 1274.9,857.1 1277.1,857.7 1279.2,858.2 1281.3,858.7 1283.5,859.3 1285.6,859.8 1287.7,860.4 1289.9,860.9 1292.0,861.4 1294.2,862.0 1296.3,862.5 1298.5,863.0 1300.6,863.6 1302.8,864.1 1305.0,864.6 1307.1,865.1 1309.3,865.7 1311.5,866.2 1313.6,866.7 1315.8,867.3 1318.0,867.8 1320.1,868.3 1322.3,868.8 1324.5,869.4 1326.7,869.9 1328.9,870.4 1330.3,870.7 1331.8,871.1 1333.3,871.4 1334.7,871.8 1336.2,872.1 1337.7,872.5 1339.1,872.8 1340.6,873.2 1342.1,873.5 1343.5,873.9 1345.0,874.2 1346.5,874.6 1348.0,874.9 1349.4,875.2 1350.9,875.6 1352.4,875.9 1353.9,876.3 1355.3,876.6 1356.8,877.0 1358.3,877.3 1359.8,877.6 1361.3,878.0 1362.7,878.3 1364.2,878.7 1365.7,879.0 1367.2,879.4 1368.7,879.7 1370.2,880.0 1371.7,880.4 1373.2,880.7 1374.7,881.1 1376.2,881.4 1377.6,881.7 1379.1,882.1 1380.6,882.4 1382.1,882.7 1383.6,883.1 1385.1,883.4 1386.6,883.8 1388.1,884.1 1389.6,884.4 1391.1,884.8 1392.7,885.1 1394.2,885.4 1395.7,885.8 1397.2,886.1 1398.7,886.4 1400.2,886.8 1401.7,887.1 1403.2,887.4 1404.7,887.8 1406.3,888.1 1407.8,888.4 1409.3,888.8 1410.8,889.1 1412.3,889.4 1413.9,889.8 1415.4,890.1 1416.9,890.4 1418.4,890.8 1419.9,891.1 1421.5,891.4 1423.0,891.8 1424.5,892.1 1426.1,892.4 1427.6,892.7 1429.1,893.1 1430.7,893.4 1432.2,893.7 1433.7,894.1 1435.3,894.4 1436.8,894.7 1438.3,895.0 1439.9,895.4 1441.4,895.7 1443.0,896.0 1444.5,896.3 1446.1,896.7 1447.6,897.0 1449.1,897.3 1450.7,897.6 1452.2,898.0 1453.8,898.3 1455.3,898.6 1456.9,898.9 1458.4,899.3 1460.0,899.6 1461.6,899.9 1463.1,900.2 1464.7,900.5 1466.2,900.9 1467.8,901.2 1469.3,901.5 1470.9,901.8 1472.5,902.1 1474.0,902.5 1475.6,902.8 1477.2,903.1 1478.7,903.4 1480.3,903.7 1481.9,904.1 1483.4,904.4 1485.0,904.7 1486.6,905.0 1488.2,905.3 1489.7,905.7 1491.3,906.0 1492.9,906.3 1494.5,906.6 1496.0,906.9 1497.6,907.2 1499.2,907.6 1500.8,907.9 1502.4,908.2 1503.9,908.5 1505.5,908.8 1507.1,909.1 1508.7,909.4 1510.3,909.8 1511.9,910.1 1513.5,910.4 1515.1,910.7 1516.7,911.0 1518.3,911.3 1519.9,911.6 1521.5,911.9 1523.0,912.2 1524.6,912.6 1526.2,912.9 1527.8,913.2 1529.5,913.5 1531.1,913.8 1532.7,914.1 1534.3,914.4 1535.9,914.7 1537.5,915.0 1539.1,915.3 1540.7,915.7 1542.3,916.0 1543.9,916.3 1545.5,916.6 1547.1,916.9 1548.8,917.2 1550.4,917.5 1552.0,917.8 1553.6,918.1 1555.2,918.4 1556.9,918.7 1558.5,919.0 1560.1,919.3 1561.7,919.6 1563.3,919.9 1565.0,920.2 1566.6,920.5 1568.2,920.8 1569.9,921.2 1571.5,921.5 1573.1,921.8 1574.7,922.1 1576.4,922.4 1578.0,922.7 1579.7,923.0 1580.5,923.1" fill="none" stroke="#ff0000" stroke-width="1.6" stroke-linejoin="round"/>
<rect x="310.5" y="33.2" width="31.4" height="31.4" fill="#525252"/>
<circle cx="703.2" cy="48.8" r="17.6" fill="#ff4040"/>
<path d="M994,48.9 H1144" stroke="#3a3a3a" stroke-width="3.8" stroke-linecap="round"/>
<path d="M1530.2,48.9 H1681.6" stroke="#ff0000" stroke-width="2"/>
<g font-family="Liberation Sans, Arial, sans-serif" font-size="67.2" fill="#000">
<text transform="translate(400.3,71.7) scale(1,1.05)">OhyRe</text>
<text transform="translate(777.7,71.7) scale(1,1.05)">ADH</text>
<text transform="translate(1162.6,71.7) scale(1,1.05)">Fit "OhyRe"</text>
<text transform="translate(1699.3,71.7) scale(1,1.05)">Fit "ADH"</text>
</g>
</svg>
</body></html>
